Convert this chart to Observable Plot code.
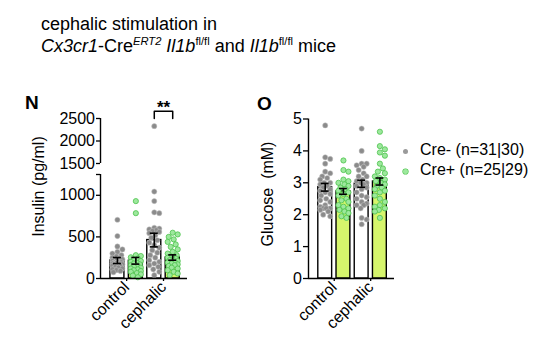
<!DOCTYPE html>
<html>
<head>
<meta charset="utf-8">
<script src="https://cdn.jsdelivr.net/npm/d3@7"></script>
<script src="https://cdn.jsdelivr.net/npm/@observablehq/plot@0.6"></script>
<style>
  body { margin: 0; background: #fff; }
  #wrap { position: relative; width: 554px; height: 351px; overflow: hidden;
          font-family: "Liberation Sans", Arial, Helvetica, sans-serif; color: #000; }
  .abs { position: absolute; }
  .title { left: 41px; top: 13px; font-size: 18px; line-height: 22px; white-space: nowrap; }
  .sup { position: relative; top: -0.6em; font-size: 0.62em; }
  .letter { font-size: 19px; font-weight: bold; line-height: 19px; }
  .legend { left: 403px; top: 140px; font-size: 16px; line-height: 20px; white-space: nowrap; }
  .sw { display: inline-block; width: 5px; height: 5px; border-radius: 50%; margin-right: 12px;
        vertical-align: middle; position: relative; top: 1px; }
</style>
</head>
<body>
<div id="wrap">
  <div id="panelN" class="abs" style="left:0;top:0;width:240px;height:351px"></div>
  <div id="panelO" class="abs" style="left:208px;top:0;width:346px;height:351px"></div>
  <div class="abs title">cephalic stimulation in<br><i>Cx3cr1</i>-Cre<span class="sup"><i>ERT2</i></span> <i>Il1b</i><span class="sup">fl/fl</span> and <i>Il1b</i><span class="sup">fl/fl</span> mice</div>
  <div class="abs letter" style="left:25px;top:93px">N</div>
  <div class="abs letter" style="left:257px;top:94px">O</div>
  <div class="abs legend" id="legend"></div>
</div>
<script>
// ---------------- data ----------------
const groups = ["control", "cephalic"];
const genotypes = ["Cre-", "Cre+"];
const legendLabels = ["Cre- (n=31|30)", "Cre+ (n=25|29)"];

const insulinTicks = [0, 500, 1000, 1500, 2000, 2500];
const insulinAxisSegments = [[0, 1250], [1500, 2500]];
const insulinBreakTicks = [1250];
const glucoseTicks = [0, 1, 2, 3, 4, 5];

// Insulin (pg/ml), one value per mouse
const insulinControlMinus = [706, 510, 385, 350, 320, 300, 280, 265, 250, 240, 230, 220, 210, 200, 195, 190, 185, 180, 175, 170, 165, 160, 155, 150, 140, 130, 120, 110, 100, 90, 75];
const insulinControlPlus = [930, 785, 280, 270, 255, 240, 225, 210, 200, 190, 180, 170, 160, 150, 140, 130, 120, 110, 100, 90, 80, 65, 50, 35, 15];
const insulinCephalicMinus = [2330, 1045, 930, 795, 785, 610, 600, 590, 580, 570, 560, 545, 520, 490, 460, 430, 400, 370, 340, 310, 280, 250, 220, 200, 180, 160, 140, 110, 80, 40];
const insulinCephalicPlus = [550, 530, 500, 470, 440, 410, 380, 350, 320, 300, 280, 260, 250, 240, 230, 220, 210, 200, 190, 180, 170, 160, 150, 130, 120, 100, 80, 60, 40];
// order: control Cre-, control Cre+, cephalic Cre-, cephalic Cre+
const insulinMean = [216, 213, 462, 252];
const insulinSem = [36, 40, 82, 32];
const insulinSignificance = "**";
const insulinBracket = [2500, 2660];

// Glucose (mM), one value per mouse
const glucoseControlMinus = [4.8, 3.8, 3.75, 3.6, 3.35, 3.3, 3.2, 3.15, 3.1, 3.0, 3.0, 2.95, 2.9, 2.85, 2.8, 2.75, 2.7, 2.65, 2.6, 2.5, 2.45, 2.4, 2.3, 2.25, 2.2, 2.2, 2.2, 2.15, 2.1, 2.0, 1.95];
const glucoseControlPlus = [3.7, 3.4, 3.35, 3.1, 3.05, 3.0, 2.95, 2.9, 2.85, 2.8, 2.75, 2.7, 2.65, 2.6, 2.5, 2.45, 2.4, 2.3, 2.25, 2.2, 2.15, 2.1, 2.05, 1.95, 1.9];
const glucoseCephalicMinus = [4.7, 4.0, 3.6, 3.6, 3.55, 3.5, 3.4, 3.3, 3.2, 3.2, 3.1, 3.05, 3.0, 3.0, 2.95, 2.9, 2.85, 2.8, 2.7, 2.6, 2.55, 2.5, 2.4, 2.35, 2.3, 2.3, 2.2, 1.9, 1.85, 1.7];
const glucoseCephalicPlus = [4.6, 4.15, 4.05, 3.95, 3.85, 3.6, 3.45, 3.35, 3.3, 3.2, 3.15, 3.1, 3.05, 3.0, 2.95, 2.9, 2.85, 2.8, 2.75, 2.7, 2.6, 2.5, 2.4, 2.3, 2.25, 2.2, 2.15, 2.1, 1.9];
const glucoseMean = [2.86, 2.73, 2.97, 3.04];
const glucoseSem = [0.12, 0.09, 0.11, 0.11];

// ---------------- styles ----------------
const LIME = "#d6f56c";
const GRAY_FILL = "#8b8b8b", GRAY_STROKE = "#c6c6c6";
const GREEN_FILL = "#9de89d", GREEN_STROKE = "#4cc34c";
const DOT_R = 2.6;

const keys = groups.flatMap(g => genotypes.map(t => `${g}|${t}`));
const isPlus = k => k.endsWith("|Cre+");

function buildPoints(lists) {
  return lists.flatMap((vals, j) => vals.map(value => ({key: keys[j], value})));
}
function buildSummary(means, sems) {
  return keys.map((key, j) => ({key, mean: means[j], sem: sems[j]}));
}

// beeswarm layout inside each bar (pixel space)
function swarm(radius, spread) {
  return (data, facets, channels, scales) => {
    const sx = scales.x, sy = scales.y;
    const n = data.length;
    const X = new Float64Array(n), Y = new Float64Array(n);
    const byKey = d3.group(d3.range(n), i => data[i].key);
    for (const [key, idx] of byKey) {
      const x0 = sx(key);
      const placed = [];
      const order = idx.slice().sort((a, b) => sy(data[a].value) - sy(data[b].value));
      for (const i of order) {
        const y = sy(data[i].value);
        let best = 0, bestD = -1;
        for (let k = 0; k <= 2 * spread; k++) {
          const off = k === 0 ? 0 : (k % 2 ? 1 : -1) * Math.ceil(k / 2);
          let d = Infinity;
          for (const p of placed) d = Math.min(d, Math.hypot(p[0] - off, p[1] - y));
          if (d >= 2 * radius) { best = off; bestD = d; break; }
          if (d > bestD) { bestD = d; best = off; }
        }
        placed.push([best, y]);
        X[i] = x0 + best;
        Y[i] = y;
      }
    }
    return {data, facets, channels: {x: {value: X}, y: {value: Y}}};
  };
}

// place a vertical rule on the frame's left edge (the y-axis line)
function atFrameLeft(data, facets, channels, scales, dimensions) {
  const half = scales.x && typeof scales.x.bandwidth === "function" ? scales.x.bandwidth() / 2 : 0;
  return {data, facets, channels: {x: {value: Array.from(data, () => dimensions.marginLeft - half)}}};
}

function panel(o) {
  const points = buildPoints(o.lists);
  const summary = buildSummary(o.means, o.sems);
  const minus = points.filter(d => !isPlus(d.key));
  const plus = points.filter(d => isPlus(d.key));
  return Plot.plot({
    width: o.width,
    height: 351,
    marginLeft: 100,
    marginRight: o.width - 100 - o.xSpan,
    marginTop: o.marginTop,
    marginBottom: 73,
    style: {fontFamily: '"Liberation Sans", Arial, Helvetica, sans-serif', fontSize: "16px", color: "black", background: "transparent", overflow: "visible"},
    x: {domain: keys, paddingInner: 0.24, paddingOuter: 0.48, align: 0.56, round: false, label: null},
    y: {type: "linear", domain: o.yDomain, range: o.yRange, label: null},
    marks: [
      Plot.barY(summary, {filter: d => !isPlus(d.key), x: "key", y: "mean", fill: "white", stroke: "black", strokeWidth: 1.4}),
      Plot.barY(summary, {filter: d => isPlus(d.key), x: "key", y: "mean", fill: LIME, stroke: "black", strokeWidth: 1.4}),
      Plot.dot(minus, {x: "key", y: "value", r: DOT_R, fill: GRAY_FILL, stroke: GRAY_STROKE, strokeWidth: 0.5, initializer: swarm(DOT_R, 5)}),
      Plot.dot(plus, {x: "key", y: "value", r: DOT_R, fill: GREEN_FILL, stroke: GREEN_STROKE, strokeWidth: 0.8, initializer: swarm(DOT_R, 5)}),
      Plot.ruleX(summary, {x: "key", y1: d => d.mean - d.sem, y2: d => d.mean + d.sem, stroke: "black", strokeWidth: 1.6}),
      Plot.tickY(summary, {x: "key", y: d => d.mean + d.sem, insetLeft: 3, insetRight: 3, stroke: "black", strokeWidth: 1.6}),
      Plot.tickY(summary, {x: "key", y: d => d.mean - d.sem, insetLeft: 3, insetRight: 3, stroke: "black", strokeWidth: 1.6}),
      Plot.ruleY([0], {stroke: "black", strokeWidth: 1.4}),
      Plot.ruleX(o.axisSegments, {y1: d => d[0], y2: d => d[1], stroke: "black", strokeWidth: 1.4, initializer: atFrameLeft}),
      Plot.axisY({ticks: o.ticks, tickFormat: d => String(d), tickSize: o.tickSize, tickPadding: 1.5, strokeWidth: 1.3,
                  label: o.label, labelAnchor: "center", labelOffset: o.labelOffset, labelArrow: "none", fontSize: 16}),
      ...(o.extraTicks ? [Plot.axisY({ticks: o.extraTicks, tickFormat: () => "", tickSize: o.tickSize, strokeWidth: 1.3, label: null})] : []),
      Plot.axisX({ticks: [keys[1], keys[3]], tickFormat: k => k.split("|")[0], dx: -9.2, tickRotate: -45,
                  tickSize: 3, tickPadding: 3, strokeWidth: 1.3, label: null, fontSize: 16}),
      ...(o.extras || [])
    ]
  });
}

const insulinChart = panel({
  lists: [insulinControlMinus, insulinControlPlus, insulinCephalicMinus, insulinCephalicPlus],
  means: insulinMean, sems: insulinSem,
  width: 240, xSpan: 87, marginTop: 94,
  yDomain: [0, 1250, 1500, 2500], yRange: [278, 174, 163, 118],
  ticks: insulinTicks, extraTicks: insulinBreakTicks, axisSegments: insulinAxisSegments,
  tickSize: 4, label: "Insulin (pg/ml)", labelOffset: 68,
  extras: [
    Plot.line(
      [{key: keys[2], y: insulinBracket[0]}, {key: keys[2], y: insulinBracket[1]}, {key: keys[3], y: insulinBracket[1]}, {key: keys[3], y: insulinBracket[0]}],
      {x: "key", y: "y", stroke: "black", strokeWidth: 1.5}
    ),
    Plot.text([{key: keys[3], y: insulinBracket[1], t: insulinSignificance}],
      {x: "key", y: "y", text: "t", dx: -9.2, dy: -3.5, fontSize: 17, fontWeight: "bold"})
  ]
});
document.getElementById("panelN").append(insulinChart);

const glucoseChart = panel({
  lists: [glucoseControlMinus, glucoseControlPlus, glucoseCephalicMinus, glucoseCephalicPlus],
  means: glucoseMean, sems: glucoseSem,
  width: 346, xSpan: 86, marginTop: 109,
  yDomain: [0, 5], yRange: [278, 118.5],
  ticks: glucoseTicks, axisSegments: [[0, 5]],
  tickSize: 5, label: "Glucose\u00a0\u00a0(mM)", labelOffset: 47
});
document.getElementById("panelO").append(glucoseChart);

// legend
const legend = document.getElementById("legend");
legendLabels.forEach((label, i) => {
  const row = document.createElement("div");
  const sw = document.createElement("span");
  sw.className = "sw";
  sw.style.background = i === 0 ? "#9a9a9a" : GREEN_FILL;
  sw.style.boxShadow = i === 0 ? "none" : "0 0 0 0.6px " + GREEN_STROKE;
  row.append(sw, document.createTextNode(label));
  legend.append(row);
});
</script>
</body>
</html>
